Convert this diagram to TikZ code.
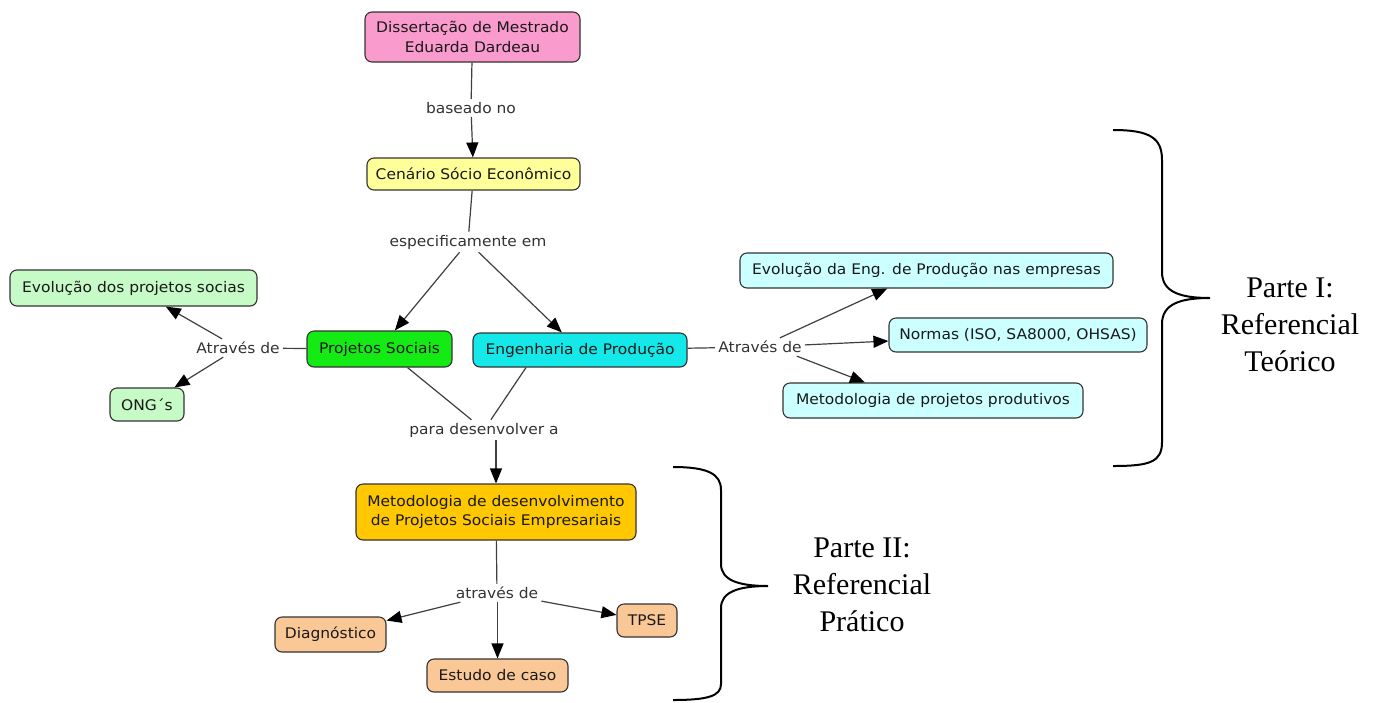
\documentclass[tikz,border=0pt]{standalone}
\usepackage{fontspec}
\usetikzlibrary{arrows.meta}
\newfontfamily\mapfont[FakeStretch=1.06]{DejaVu Sans}
\newfontfamily\partfont{Liberation Serif}
\definecolor{cPink}{RGB}{250,155,205}
\definecolor{cYellow}{RGB}{255,255,153}
\definecolor{cGreen}{RGB}{20,235,20}
\definecolor{cCyan}{RGB}{20,232,232}
\definecolor{cGold}{RGB}{255,200,0}
\definecolor{cLightGreen}{RGB}{198,250,198}
\definecolor{cLightCyan}{RGB}{204,255,255}
\definecolor{cLightOrange}{RGB}{250,200,150}
\begin{document}
\begin{tikzpicture}[x=1pt,y=-1pt,
  concept/.style={draw=black!80, line width=1.1pt, rounded corners=7pt,
    text=black!90, font=\mapfont\fontsize{14.6}{19.5}\selectfont,
    align=center, inner sep=0pt},
  linkword/.style={text=black!80, font=\mapfont\fontsize{14.6}{17}\selectfont,
    inner sep=3pt},
  link/.style={draw=black!75, line width=1.2pt},
  arr/.style={link, -{Triangle[length=15pt,width=12pt,color=black]}},
  brace/.style={draw=black, line width=2pt},
  part/.style={font=\partfont\fontsize{30}{37}\selectfont, align=center, text=black}]

\fill[white] (0,0) rectangle (1383,702);
\useasboundingbox (0,0) rectangle (1383,702);

% concepts
\node[concept, fill=cPink, minimum width=215pt, minimum height=50pt] (diss) at (472.5,37)
  {Dissertação de Mestrado\\Eduarda Dardeau};
\node[concept, fill=cYellow, minimum width=213pt, minimum height=32pt] (cen) at (473.5,174)
  {Cenário Sócio Econômico};
\node[concept, fill=cGreen, minimum width=145pt, minimum height=36pt] (proj) at (379.5,349)
  {Projetos Sociais};
\node[concept, fill=cCyan, minimum width=214pt, minimum height=34pt] (eng) at (580,350)
  {Engenharia de Produção};
\node[concept, fill=cLightGreen, minimum width=247pt, minimum height=36pt] (evps) at (133.5,288)
  {Evolução dos projetos socias};
\node[concept, fill=cLightGreen, minimum width=74pt, minimum height=33pt] (ong) at (147,404.5)
  {ONG´s};
\node[concept, fill=cLightCyan, minimum width=373pt, minimum height=35pt] (eveng) at (926.5,270.5)
  {Evolução da Eng. de Produção nas empresas};
\node[concept, fill=cLightCyan, minimum width=258pt, minimum height=34pt] (normas) at (1018,335)
  {Normas (ISO, SA8000, OHSAS)};
\node[concept, fill=cLightCyan, minimum width=300pt, minimum height=35pt] (metprod) at (933,400.5)
  {Metodologia de projetos produtivos};
\node[concept, fill=cGold, minimum width=280pt, minimum height=56pt] (metdes) at (496,512)
  {Metodologia de desenvolvimento\\de Projetos Sociais Empresariais};
\node[concept, fill=cLightOrange, minimum width=111pt, minimum height=35pt] (diag) at (330.5,634.5)
  {Diagnóstico};
\node[concept, fill=cLightOrange, minimum width=141pt, minimum height=33pt] (estudo) at (497.5,675.5)
  {Estudo de caso};
\node[concept, fill=cLightOrange, minimum width=60pt, minimum height=33pt] (tpse) at (647,620.5)
  {TPSE};

% linking phrases
\node[linkword] (lbl1) at (471,108) {baseado no};
\node[linkword] (lbl2) at (468,242) {especificamente em};
\node[linkword] (lblL) at (238,348) {Através de};
\node[linkword] (lblR) at (760,347) {Através de};
\node[linkword] (lbl3) at (484,430) {para desenvolver a};
\node[linkword] (lbl4) at (497,593) {através de};

% connectors
\draw[link] (diss) -- (lbl1);
\draw[arr] (lbl1) -- (cen);
\draw[link] (cen) -- (lbl2);
\draw[arr] (lbl2) -- (proj);
\draw[arr] (lbl2) -- (eng);
\draw[link] (proj) -- (lblL);
\draw[arr] (lblL) -- (evps);
\draw[arr] (lblL) -- (ong);
\draw[link] (eng) -- (lblR);
\draw[arr] (lblR) -- (eveng);
\draw[arr] (lblR) -- (normas);
\draw[arr] ([xshift=-8pt]lblR.south east) -- ([xshift=-68pt]metprod.north);
\draw[link] ([xshift=28pt]proj.south) -- (lbl3);
\draw[link] ([xshift=-54pt]eng.south) -- (lbl3);
\draw[arr] (lbl3.south -| metdes.north) -- (metdes.north);
\draw[link] (metdes) -- (lbl4);
\draw[arr] (lbl4) -- (diag);
\draw[arr] (lbl4.south -| estudo.north) -- (estudo.north);
\draw[arr] (lbl4) -- (tpse);

% braces grouping the two parts
\draw[brace] (1113,130) .. controls (1150,130) and (1162,138) .. (1162,160)
  -- (1162,272) .. controls (1162,292) and (1180,298) .. (1210,298)
  .. controls (1180,298) and (1162,304) .. (1162,324)
  -- (1162,442) .. controls (1162,462) and (1150,466) .. (1113,466);
\draw[brace] (673,467) .. controls (708,467) and (721,474) .. (721,490)
  -- (721,564) .. controls (721,580) and (738,586) .. (768,586)
  .. controls (738,586) and (721,592) .. (721,608)
  -- (721,684) .. controls (721,696) and (708,700) .. (673,700);

\node[part] (p1) at (1290,325) {Parte I:\\Referencial\\Teórico};
\node[part] (p2) at (862,585) {Parte II:\\Referencial\\Prático};
\end{tikzpicture}
\end{document}
